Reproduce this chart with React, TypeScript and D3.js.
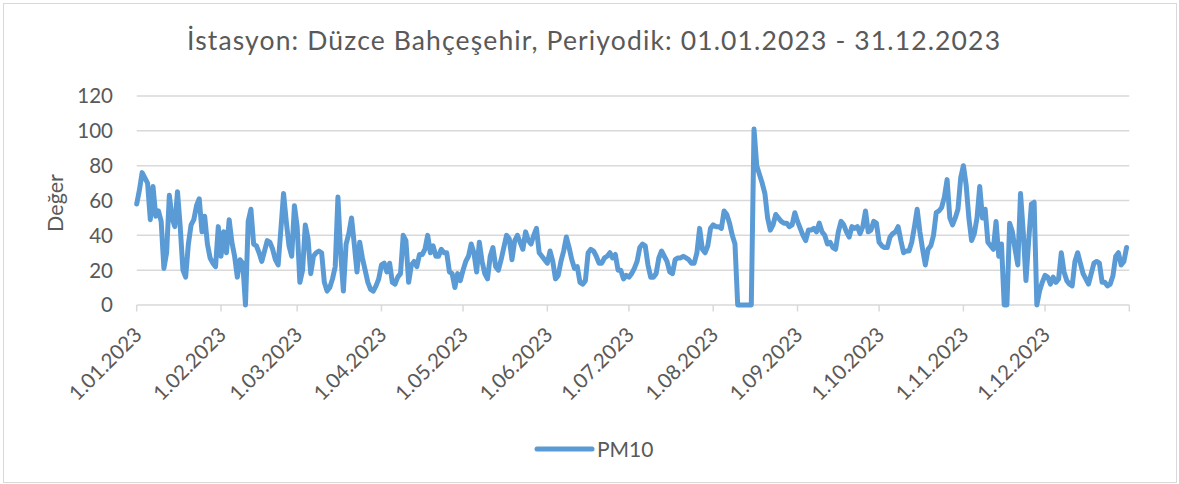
import React from "react";
import * as d3 from "d3";

// Daily PM10 values, 2023
const jan = [58, 66, 76, 73, 70, 49, 68, 51, 54, 48, 21, 30, 63, 50, 45, 65, 45, 20, 16, 35, 46, 49, 57, 61, 42, 51, 35, 27, 24, 22, 45];
const feb = [28, 42, 30, 49, 36, 28, 16, 26, 24, 0, 48, 55, 35, 34, 30, 25, 31, 37, 36, 32, 26, 23, 43, 64, 48, 34, 28, 57];
const mar = [45, 13, 20, 46, 38, 18, 28, 30, 31, 30, 13, 8, 10, 15, 22, 62, 30, 8, 35, 41, 50, 35, 19, 36, 27, 20, 13, 9, 8, 11, 15];
const apr = [23, 24, 19, 24, 13, 12, 16, 18, 40, 37, 13, 23, 25, 22, 29, 29, 32, 40, 30, 34, 28, 28, 32, 30, 30, 19, 18, 10, 18, 14];
const may = [20, 25, 28, 35, 30, 19, 36, 25, 18, 15, 28, 33, 22, 20, 26, 33, 40, 38, 26, 37, 40, 36, 32, 42, 37, 35, 40, 44, 30, 28, 26];
const jun = [24, 31, 25, 15, 17, 25, 31, 39, 33, 26, 21, 22, 13, 12, 14, 30, 32, 31, 28, 24, 24, 27, 28, 30, 27, 29, 20, 20, 15, 17];
const jul = [16, 18, 21, 25, 33, 35, 34, 23, 16, 16, 18, 27, 31, 28, 25, 19, 18, 26, 27, 27, 28, 27, 26, 24, 24, 30, 44, 32, 30, 34, 44];
const aug = [46, 45, 45, 44, 54, 52, 47, 40, 35, 0, 0, 0, 0, 0, 0, 101, 80, 75, 70, 64, 50, 43, 46, 52, 50, 48, 47, 47, 45, 46, 53];
const sep = [48, 44, 40, 37, 43, 43, 44, 42, 47, 42, 40, 35, 36, 33, 32, 42, 48, 46, 42, 39, 45, 44, 45, 41, 45, 54, 42, 43, 48, 47];
const oct = [36, 34, 33, 33, 39, 41, 42, 45, 37, 30, 31, 31, 36, 45, 55, 42, 32, 23, 32, 34, 40, 53, 54, 56, 62, 72, 50, 46, 50, 55, 73];
const nov = [80, 69, 50, 37, 41, 50, 68, 50, 55, 36, 34, 32, 48, 28, 35, 0, 0, 47, 42, 32, 23, 64, 42, 14, 37, 58, 59, 0, 8, 13];
const dec = [17, 16, 12, 16, 13, 15, 30, 19, 14, 12, 11, 25, 30, 24, 18, 15, 12, 18, 24, 25, 24, 13, 13, 11, 12, 17, 28, 30, 23, 25, 33];

const monthlySeries = [jan, feb, mar, apr, may, jun, jul, aug, sep, oct, nov, dec];
const yTicks = [0, 20, 40, 60, 80, 100, 120];
const seriesName = "PM10";
const titleText = "İstasyon: Düzce Bahçeşehir, Periyodik: 01.01.2023 - 31.12.2023";
const yLabel = "Değer";

type Pt = { date: Date; value: number };
const data: Pt[] = monthlySeries.flatMap((arr, m) =>
  arr.map((v, i) => ({ date: new Date(Date.UTC(2023, m, i + 1)), value: v }))
);

const W = 1179;
const H = 484;
const FONT = "Lato, 'Open Sans', sans-serif";
const TXT = "#595959";
const GRID = "#d9d9d9";
const LINE = "#5b9bd5";

export default function App() {
  const x = d3
    .scaleUtc()
    .domain([new Date(Date.UTC(2023, 0, 1)), new Date(Date.UTC(2024, 0, 1))])
    .range([136.7, 1129.3]);
  const y = d3.scaleLinear().domain([0, 120]).range([305, 96]);
  const left = x.range()[0];
  const right = x.range()[1];

  const monthTicks = d3.utcMonth.range(
    new Date(Date.UTC(2023, 0, 1)),
    new Date(Date.UTC(2024, 0, 2))
  );
  const labelTicks = monthTicks.filter((d) => d.getUTCFullYear() === 2023);
  const fmt = d3.utcFormat("%-d.%m.%Y");

  const line = d3
    .line<Pt>()
    .x((d) => x(d.date))
    .y((d) => y(d.value));

  return (
    <svg
      width={W}
      height={H}
      style={{ position: "absolute", left: 0, top: 0, background: "#fff" }}
      fontFamily={FONT}
    >
      <rect x={0} y={0} width={W} height={H} fill="#fff" />
      <rect x={3.5} y={3.5} width={1173} height={479} fill="none" stroke={GRID} strokeWidth={1} />

      <text x={187} y={50} fontSize={26.5} fill={TXT} textLength={813} lengthAdjust="spacing">
        {titleText}
      </text>

      {yTicks.map((t) => (
        <g key={t}>
          <line x1={left} x2={right} y1={y(t)} y2={y(t)} stroke={GRID} strokeWidth={1.5} />
          <text x={113} y={y(t)} dy="0.36em" textAnchor="end" fontSize={20.5} fill={TXT}>
            {t}
          </text>
        </g>
      ))}

      {monthTicks.map((d, i) => (
        <line key={i} x1={x(d)} x2={x(d)} y1={305} y2={311.5} stroke={GRID} strokeWidth={1.5} />
      ))}

      {labelTicks.map((d, i) => (
        <text
          key={i}
          transform={`translate(${x(d) + 6.5},336) rotate(-45)`}
          textAnchor="end"
          fontSize={20.5}
          fill={TXT}
        >
          {fmt(d)}
        </text>
      ))}

      <text
        transform="translate(63,203) rotate(-90)"
        textAnchor="middle"
        fontSize={21.5}
        fill={TXT}
      >
        {yLabel}
      </text>

      <path
        d={line(data) || ""}
        fill="none"
        stroke={LINE}
        strokeWidth={5}
        strokeLinejoin="round"
        strokeLinecap="round"
      />

      <line x1={537} x2={592} y1={449} y2={449} stroke={LINE} strokeWidth={5} strokeLinecap="round" />
      <text x={597} y={457} fontSize={21} fill={TXT}>
        {seriesName}
      </text>
    </svg>
  );
}
